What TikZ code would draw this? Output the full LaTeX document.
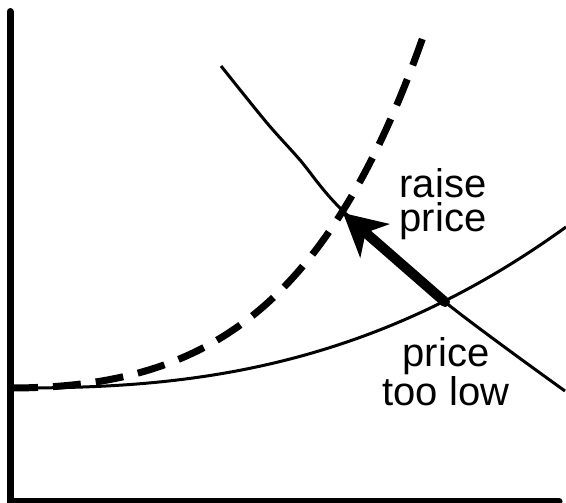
\documentclass[tikz,border=0pt]{standalone}
\usepackage{fontspec}
\setmainfont{Liberation Sans}
\usetikzlibrary{arrows.meta}
\begin{document}
\begin{tikzpicture}[x=1pt,y=-1pt,
  axis/.style={line width=7pt, line cap=round, line join=miter},
  curve/.style={line width=3pt},
  dashcurve/.style={line width=7pt, dash pattern=on 28pt off 15pt},
  movearrow/.style={line width=10pt, line cap=round, -{Stealth[length=42pt,width=44pt,inset=12pt]}},
  lbl/.style={font=\fontsize{40}{35}\selectfont, align=center, anchor=base, inner sep=0pt}]
\useasboundingbox (0,0) rectangle (566,503);
% axes
\draw[axis] (10,11.5) -- (10,501) -- (559,501);
% supply (original)
\draw[curve] plot[domain=10:566, samples=90] (\x, {388 - 161*((\x-10)/556)^2*sqrt((\x-10)/556)});
% supply (shifted, dashed)
\draw[dashcurve] plot[domain=10:423, samples=90] (\x, {388 - 32*(exp(0.0065*(\x-10)) - 1 - 0.0065*(\x-10))});
% demand
\draw[curve] plot[smooth] coordinates {(221,66) (267,123) (300,160) (342,210) (445,302) (565,391)};
% points
\coordinate (low) at (445,302);
\coordinate (high) at (343,213);
\draw[movearrow] (low) -- (high);
% labels
\node[lbl] (raise) at (443,232) {raise\\price};
\node[lbl] (toolow) at (446,405) {price\\too low};
\end{tikzpicture}
\end{document}
